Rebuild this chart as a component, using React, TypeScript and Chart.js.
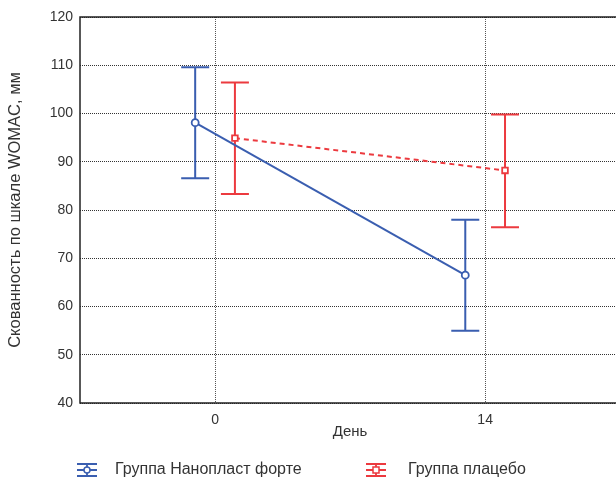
import React, { useEffect, useRef } from "react";
import { Chart, registerables } from "chart.js";
Chart.register(...registerables);

const days = [0, 14];
const dayTickLabels = ["0", "14"];
const yTickValues = [40, 50, 60, 70, 80, 90, 100, 110, 120];

const nanoLabel = "Группа Нанопласт форте";
const nanoMean = [98.1, 66.5];
const nanoLow = [86.6, 55.0];
const nanoHigh = [109.6, 78.0];

const placeboLabel = "Группа плацебо";
const placeboMean = [94.9, 88.2];
const placeboLow = [83.3, 76.4];
const placeboHigh = [106.4, 99.8];

const BLUE = "#3a5eb0";
const RED = "#ec3a3f";
const FONT = "'Liberation Sans', Arial, sans-serif";
const DODGE = 1.03;

const errorBars = [
  { low: nanoLow, high: nanoHigh, color: BLUE },
  { low: placeboLow, high: placeboHigh, color: RED },
];

function drawIcon(ctx: CanvasRenderingContext2D, cx: number, cy: number, color: string, square: boolean) {
  ctx.save();
  ctx.strokeStyle = color;
  ctx.lineWidth = 1.8;
  ctx.setLineDash([]);
  ctx.beginPath();
  ctx.moveTo(cx - 10, cy - 6); ctx.lineTo(cx + 10, cy - 6);
  ctx.moveTo(cx - 10, cy + 6); ctx.lineTo(cx + 10, cy + 6);
  ctx.moveTo(cx, cy - 6); ctx.lineTo(cx, cy + 6);
  ctx.moveTo(cx - 10, cy); ctx.lineTo(cx + 10, cy);
  ctx.stroke();
  ctx.fillStyle = "#fff";
  ctx.lineWidth = 1.5;
  ctx.beginPath();
  if (square) ctx.rect(cx - 3, cy - 3, 6, 6);
  else ctx.arc(cx, cy, 3, 0, Math.PI * 2);
  ctx.fill();
  ctx.stroke();
  ctx.restore();
}

const customPlugin = {
  id: "custom",
  beforeDatasetsDraw(chart: any) {
    const { ctx } = chart;
    const ys = chart.scales.y;
    errorBars.forEach((eb, i) => {
      const meta = chart.getDatasetMeta(i);
      meta.data.forEach((pt: any, j: number) => {
        const x = pt.x;
        const yh = ys.getPixelForValue(eb.high[j]);
        const yl = ys.getPixelForValue(eb.low[j]);
        ctx.save();
        ctx.strokeStyle = eb.color;
        ctx.lineWidth = 2;
        ctx.beginPath();
        ctx.moveTo(x, yh); ctx.lineTo(x, yl);
        ctx.moveTo(x - 14, yh); ctx.lineTo(x + 14, yh);
        ctx.moveTo(x - 14, yl); ctx.lineTo(x + 14, yl);
        ctx.stroke();
        ctx.restore();
      });
    });
  },
  afterDraw(chart: any) {
    const { ctx, chartArea } = chart;
    ctx.save();
    ctx.strokeStyle = "#222";
    ctx.lineWidth = 1.5;
    ctx.beginPath();
    ctx.moveTo(chartArea.right, chartArea.top);
    ctx.lineTo(chartArea.left, chartArea.top);
    ctx.lineTo(chartArea.left, chartArea.bottom);
    ctx.lineTo(chartArea.right, chartArea.bottom);
    ctx.stroke();
    ctx.restore();

    const ly = 470;
    const items = [
      { x: 87, tx: 115, label: chart.data.datasets[0].label, color: BLUE, square: false },
      { x: 376, tx: 408, label: chart.data.datasets[1].label, color: RED, square: true },
    ];
    items.forEach((it) => {
      drawIcon(ctx, it.x, ly, it.color, it.square);
      ctx.save();
      ctx.fillStyle = "#333";
      ctx.font = "16px " + FONT;
      ctx.textBaseline = "middle";
      ctx.textAlign = "left";
      ctx.fillText(it.label, it.tx, ly);
      ctx.restore();
    });
  },
};

export default function App() {
  const ref = useRef<HTMLCanvasElement | null>(null);
  useEffect(() => {
    if (!ref.current) return;
    const chart = new Chart(ref.current, {
      type: "line",
      data: {
        datasets: [
          {
            label: nanoLabel,
            data: days.map((d, i) => ({ x: d - DODGE, y: nanoMean[i] })),
            borderColor: BLUE,
            backgroundColor: "#fff",
            borderWidth: 2,
            pointStyle: "circle",
            pointRadius: 3.5,
            pointBorderWidth: 1.8,
            pointBackgroundColor: "#fff",
            pointBorderColor: BLUE,
          },
          {
            label: placeboLabel,
            data: days.map((d, i) => ({ x: d + DODGE, y: placeboMean[i] })),
            borderColor: RED,
            backgroundColor: "#fff",
            borderWidth: 2,
            borderDash: [5, 4],
            pointStyle: "rect",
            pointRadius: 4,
            pointBorderWidth: 1.8,
            pointBackgroundColor: "#fff",
            pointBorderColor: RED,
          },
        ],
      },
      options: {
        animation: false,
        responsive: false,
        layout: { padding: { top: 17, right: 0, left: 0, bottom: 41.5 } },
        plugins: { legend: { display: false }, tooltip: { enabled: false } },
        scales: {
          x: {
            type: "linear",
            min: -7,
            max: 21,
            afterBuildTicks: (scale: any) => {
              scale.ticks = days.map((d) => ({ value: d }));
            },
            afterFit: (scale: any) => {
              scale.paddingLeft = 0;
              scale.paddingRight = 0;
              scale.height = 36.5;
            },
            ticks: {
              callback: (v: any) => {
                const i = days.indexOf(Number(v));
                return i >= 0 ? dayTickLabels[i] : "";
              },
              color: "#333",
              font: { family: FONT, size: 14, lineHeight: 1 },
              padding: 10,
              maxRotation: 0,
            },
            grid: { color: "#555", drawTicks: false, lineWidth: 1 },
            border: { display: false, dash: [1, 1] },
            title: {
              display: true,
              text: "День",
              color: "#333",
              font: { family: FONT, size: 15, lineHeight: 1 },
              padding: { top: 0, bottom: 0 },
            },
          },
          y: {
            min: 40,
            max: 120,
            afterBuildTicks: (scale: any) => {
              scale.ticks = yTickValues.map((v) => ({ value: v }));
            },
            afterFit: (scale: any) => {
              scale.width = 80;
            },
            ticks: {
              color: "#333",
              font: { family: FONT, size: 14 },
              padding: 7,
            },
            grid: { color: "#333", drawTicks: false, lineWidth: 1 },
            border: { display: false, dash: [1, 1] },
            title: {
              display: true,
              text: "Скованность по шкале WOMAC, мм",
              color: "#333",
              font: { family: FONT, size: 16.5 },
              padding: { top: 6, bottom: 4 },
            },
          },
        },
      },
      plugins: [customPlugin],
    } as any);
    return () => chart.destroy();
  }, []);
  return (
    <div style={{ position: "fixed", left: 0, top: 0, width: 616, height: 481, overflow: "hidden" }}>
      <canvas ref={ref} width={626} height={481} style={{ display: "block" }} />
    </div>
  );
}
